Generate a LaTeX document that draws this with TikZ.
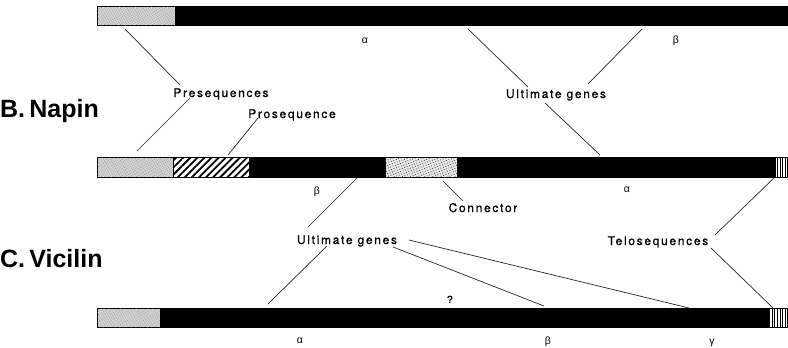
\documentclass[tikz,border=0pt]{standalone}
\usepackage{fontspec}
\setmainfont{Liberation Sans}
\newfontfamily\labfont[LetterSpace=14,FakeBold=0.6]{TeX Gyre Heros}
\newfontfamily\titfont{Liberation Sans}
\usetikzlibrary{patterns.meta}
\begin{document}
\begin{tikzpicture}[x=1pt,y=-1pt,
  seg/.style={draw=black, line width=0.5pt, inner sep=0pt, outer sep=0pt, anchor=north west},
  blk/.style={seg, fill=black},
  stip/.style={seg, fill=black!18, postaction={pattern={Dots[radius=0.35pt,distance=2pt,angle=30]}, pattern color=black!55}},
  conn/.style={seg, fill=black!8, postaction={pattern={Dots[radius=0.6pt,distance=2.6pt,angle=20]}, pattern color=black!80}},
  hatch/.style={seg, fill=white, postaction={pattern={Lines[angle=45,distance=5pt,line width=1.8pt]}, pattern color=black}},
  telo/.style={seg, fill=white, postaction={pattern={Lines[angle=90,distance=2.6pt,line width=0.9pt]}, pattern color=black}},
  lab/.style={font=\labfont\fontsize{12}{14}\selectfont, anchor=base, inner sep=0pt},
  greek/.style={font=\fontsize{10.5}{12}\selectfont, anchor=base, inner sep=0pt},
  title/.style={font=\titfont\bfseries\fontsize{25}{28}\selectfont, anchor=base west, inner sep=0pt},
  ln/.style={line width=0.7pt, draw=black!85}]
\useasboundingbox (0,0) rectangle (788,348);
% bar 1
\node[stip, minimum width=78pt, minimum height=19pt] (a1) at (97,6) {};
\node[blk, minimum width=613pt, minimum height=19pt] (a2) at (175,6) {};
% bar 2 (Napin)
\node[stip, minimum width=76pt, minimum height=20pt] (n1) at (97,157) {};
\node[hatch, minimum width=76pt, minimum height=20pt] (n2) at (173,157) {};
\node[blk, minimum width=136pt, minimum height=20pt] (n3) at (249,157) {};
\node[conn, minimum width=72pt, minimum height=20pt] (n4) at (385,157) {};
\node[blk, minimum width=318pt, minimum height=20pt] (n5) at (457,157) {};
\node[telo, minimum width=13pt, minimum height=20pt] (n6) at (775,157) {};
% bar 3 (Vicilin)
\node[stip, minimum width=63pt, minimum height=19pt] (v1) at (97,308) {};
\node[blk, minimum width=608pt, minimum height=19pt] (v2) at (160,308) {};
\node[telo, minimum width=20pt, minimum height=19pt] (v3) at (768,308) {};
% titles
\node[title] (tB) at (0,117) {B.\,Napin};
\node[title] (tC) at (0,267) {C.\,Vicilin};
% greek labels
\node[greek] (ga1) at (365,43) {α};
\node[greek] (gb1) at (676,43) {β};
\node[greek] (gb2) at (317,194) {β};
\node[greek] (ga2) at (627,192) {α};
\node[greek] (gq) at (450,303) {\textbf{?}};
\node[greek] (ga3) at (300,343) {α};
\node[greek] (gb3) at (548,344) {β};
\node[greek] (gg3) at (712,344) {γ};
% text labels
\node[lab] (pre) at (221,97) {Presequences};
\node[lab] (pro) at (292,118) {Prosequence};
\node[lab] (ug1) at (556,98) {Ultimate genes};
\node[lab] (con) at (483,212) {Connector};
\node[lab] (ug2) at (347,244) {Ultimate genes};
\node[lab] (tel) at (658,245) {Telosequences};
% connector end points
\coordinate (p1a) at (125,29);  \coordinate (p1b) at (180,85);
\coordinate (p2a) at (190,98);  \coordinate (p2b) at (137,151);
\coordinate (p3a) at (258,118); \coordinate (p3b) at (228,155);
\coordinate (p4a) at (468,29);  \coordinate (p4b) at (528,87);
\coordinate (p5a) at (642,29);  \coordinate (p5b) at (588,84);
\coordinate (p6a) at (545,103); \coordinate (p6b) at (600,155);
\coordinate (p7a) at (443,181); \coordinate (p7b) at (463,201);
\coordinate (p8a) at (357,178); \coordinate (p8b) at (308,227);
\coordinate (p9a) at (327,246); \coordinate (p9b) at (268,304);
\coordinate (p10a) at (393,247); \coordinate (p10b) at (544,306);
\coordinate (p11a) at (409,240); \coordinate (p11b) at (689,308);
\coordinate (p12a) at (715,235); \coordinate (p12b) at (774,178);
\coordinate (p13a) at (711,248); \coordinate (p13b) at (773,308);
\draw[ln] (p1a) -- (p1b);
\draw[ln] (p2a) -- (p2b);
\draw[ln] (p3a) -- (p3b);
\draw[ln] (p4a) -- (p4b);
\draw[ln] (p5a) -- (p5b);
\draw[ln] (p6a) -- (p6b);
\draw[ln] (p7a) -- (p7b);
\draw[ln] (p8a) -- (p8b);
\draw[ln] (p9a) -- (p9b);
\draw[ln] (p10a) -- (p10b);
\draw[ln] (p11a) -- (p11b);
\draw[ln] (p12a) -- (p12b);
\draw[ln] (p13a) -- (p13b);
\end{tikzpicture}
\end{document}
